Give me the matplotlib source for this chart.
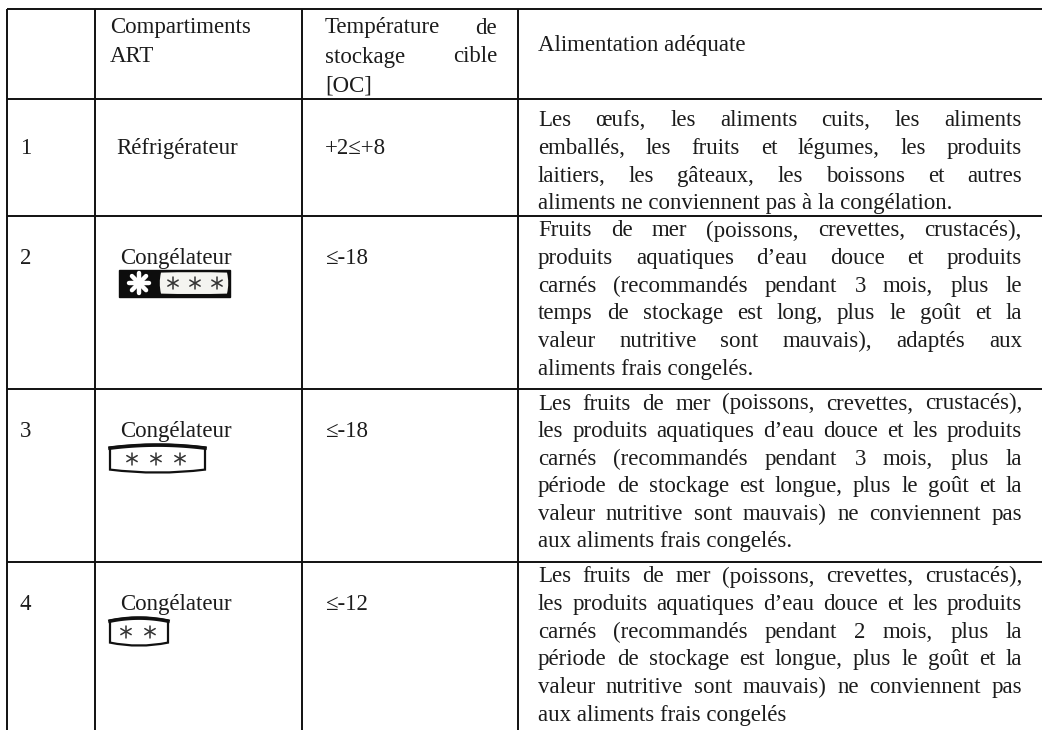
import matplotlib
matplotlib.use("Agg")
import numpy as np
import matplotlib.pyplot as plt
from matplotlib.path import Path
from matplotlib.patches import PathPatch, Rectangle

plt.rcParams['font.family'] = ['Liberation Serif', 'DejaVu Serif']

# contenu du tableau
entete_compartiment = ["Compartiments", "ART"]
entete_temperature = ["Température de", "stockage cible", "[OC]"]
entete_aliments = "Alimentation adéquate"

numeros = ["1", "2", "3", "4"]
compartiments = ["Réfrigérateur", "Congélateur", "Congélateur", "Congélateur"]
temperatures = ["+2≤+8", "≤-18", "≤-18", "≤-12"]
etoiles = [0, 4, 3, 2]
aliments = [
    ["Les œufs, les aliments cuits, les aliments",
     "emballés, les fruits et légumes, les produits",
     "laitiers, les gâteaux, les boissons et autres",
     "aliments ne conviennent pas à la congélation."],
    ["Fruits de mer (poissons, crevettes, crustacés),",
     "produits aquatiques d’eau douce et produits",
     "carnés (recommandés pendant 3 mois, plus le",
     "temps de stockage est long, plus le goût et la",
     "valeur nutritive sont mauvais), adaptés aux",
     "aliments frais congelés."],
    ["Les fruits de mer (poissons, crevettes, crustacés),",
     "les produits aquatiques d’eau douce et les produits",
     "carnés (recommandés pendant 3 mois, plus la",
     "période de stockage est longue, plus le goût et la",
     "valeur nutritive sont mauvais) ne conviennent pas",
     "aux aliments frais congelés."],
    ["Les fruits de mer (poissons, crevettes, crustacés),",
     "les produits aquatiques d’eau douce et les produits",
     "carnés (recommandés pendant 2 mois, plus la",
     "période de stockage est longue, plus le goût et la",
     "valeur nutritive sont mauvais) ne conviennent pas",
     "aux aliments frais congelés"],
]

# mise en page (en pixels)
W, H = 1042, 730
col_x = [7, 95, 302, 518]
row_y = [9, 99, 216, 389, 562]
premiere_ligne = [120, 230, 403, 576]
interligne = 27.6
fs = 16.5
couleur = "#1c1c1c"

fig = plt.figure(figsize=(W / 100, H / 100), dpi=100)
ax = fig.add_axes([0, 0, 1, 1])
ax.set_xlim(0, W)
ax.set_ylim(H, 0)
ax.axis("off")
renderer = fig.canvas.get_renderer()

# grille
for x in col_x:
    ax.plot([x, x], [row_y[0], H + 5], color="#111111", lw=1.4, solid_capstyle="butt")
for y in row_y:
    ax.plot([col_x[0], W + 5], [y, y], color="#111111", lw=1.4, solid_capstyle="butt")


def ecrire(x, y, s):
    return ax.text(x, y + 6.5, s, fontsize=fs, color=couleur, va="baseline", ha="left")


def justifier(x0, x1, y, ligne, derniere=False):
    if derniere:
        ecrire(x0, y, ligne)
        return
    mots = ligne.split(" ")
    textes = [ecrire(0, y, m) for m in mots]
    largeurs = [t.get_window_extent(renderer).width for t in textes]
    espace = (x1 - x0 - sum(largeurs)) / max(len(mots) - 1, 1)
    x = x0
    for t, w in zip(textes, largeurs):
        t.set_x(x)
        x += w + espace


def barillet(x0, x1, y0, y1, b_haut, b_cote, **kw):
    xm, ym = (x0 + x1) / 2, (y0 + y1) / 2
    verts = [(x0, y0 + b_haut), (xm, y0 - b_haut), (x1, y0 + b_haut),
             (x1 + b_cote, ym), (x1, y1 - b_haut),
             (xm, y1 + b_haut), (x0, y1 - b_haut),
             (x0 - b_cote, ym), (x0, y0 + b_haut), (x0, y0 + b_haut)]
    codes = [Path.MOVETO, Path.CURVE3, Path.CURVE3,
             Path.CURVE3, Path.CURVE3,
             Path.CURVE3, Path.CURVE3,
             Path.CURVE3, Path.CURVE3, Path.CLOSEPOLY]
    ax.add_patch(PathPatch(Path(verts, codes), **kw))


def asterisque(x, y, r, c, lw, branches=6):
    for k in range(branches // 2):
        a = np.pi / 2 + k * 2 * np.pi / branches
        ax.plot([x - r * np.cos(a), x + r * np.cos(a)],
                [y - r * np.sin(a), y + r * np.sin(a)],
                color=c, lw=lw, solid_capstyle="round")


# en-tête
ecrire(110, 27, entete_compartiment[0])
ecrire(110, 56, entete_compartiment[1])
justifier(325, 497, 27, entete_temperature[0])
justifier(325, 497, 56, entete_temperature[1])
justifier(325, 497, 85, entete_temperature[2], derniere=True)
ecrire(538, 45, entete_aliments)

# lignes du tableau
for i in range(len(numeros)):
    y_label = premiere_ligne[i] + interligne
    ecrire(20, y_label, numeros[i])
    ecrire(120 if etoiles[i] else 116, y_label, compartiments[i])
    ecrire(325, y_label, temperatures[i])
    for j, ligne in enumerate(aliments[i]):
        justifier(538, 1022, premiere_ligne[i] + j * interligne, ligne,
                  derniere=(j == len(aliments[i]) - 1))

    n = etoiles[i]
    if n == 4:
        y0 = y_label + 12
        ax.add_patch(Rectangle((119, y0), 111, 27, color="#0d0d0d"))
        barillet(161, 227, y0 + 2.5, y0 + 24.5, 0.5, 2.5, facecolor="#f4f4f0", edgecolor="none")
        asterisque(139, y0 + 13.5, 10, "white", 3.2, branches=8)
        for k in range(3):
            asterisque(173 + 22 * k, y0 + 13.5, 6, "#333333", 1.1)
    elif n in (2, 3):
        y0 = y_label + 14
        x1 = 205 if n == 3 else 168
        barillet(110, x1, y0, y0 + 28, 3, 0, facecolor="white", edgecolor="#111111", lw=1.6)
        xs = np.linspace(110, x1, 40)
        u = (xs - (110 + x1) / 2) / ((x1 - 110) / 2)
        ax.plot(xs, y0 + 3.5 - 3 * (1 - u ** 2), color="#111111", lw=2.6)
        for k in range(n):
            asterisque(132 + 24 * k if n == 3 else 126 + 24 * k, y0 + 14, 6, "#333333", 1.1)

fig.savefig("out.png", dpi=100)
